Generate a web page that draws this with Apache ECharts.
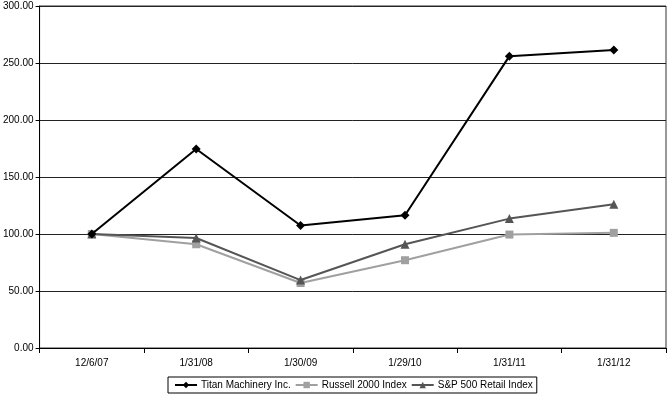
<!DOCTYPE html>
<html><head><meta charset="utf-8">
<script src="https://cdn.jsdelivr.net/npm/echarts@6/dist/echarts.min.js"></script>
<style>html,body{margin:0;padding:0;background:#fff}#c{width:667px;height:394px}</style>
</head><body><div id="c"></div>
<script>
const categories = ['12/6/07','1/31/08','1/30/09','1/29/10','1/31/11','1/31/12'];
const titan = [100, 174.6, 107.5, 116.5, 256, 261.4];
const russell = [100, 91, 57, 77, 99.5, 101];
const spRetail = [100, 96.5, 59.6, 91, 113.5, 126];
const yTicks = [0, 50, 100, 150, 200, 250, 300];

const chart = echarts.init(document.getElementById('c'));
const font = 'Liberation Sans, Arial, sans-serif';
chart.setOption({
  animation: false,
  grid: {left: 39, right: 1, top: 6, bottom: 46, containLabel: false, show: true, borderColor: '#333', borderWidth: 1},
  legend: {
    bottom: 1, left: 168, itemGap: 4, itemWidth: 22, itemHeight: 8,
    padding: [3, 4, 3, 6], borderColor: '#000', borderWidth: 1,
    textStyle: {fontFamily: font, fontSize: 10, color: '#000', padding: [0, 0, 0, -1]},
    data: ['Titan Machinery Inc.', 'Russell 2000 Index', 'S&P 500 Retail Index']
  },
  xAxis: {
    type: 'category', data: categories, boundaryGap: true,
    axisLine: {lineStyle: {color: '#000'}},
    axisTick: {show: true, length: 5, inside: false, lineStyle: {color: '#000'}},
    axisLabel: {fontFamily: font, fontSize: 10, color: '#000', margin: 10}
  },
  yAxis: {
    type: 'value', min: 0, max: 300, interval: 50,
    axisLine: {show: true, lineStyle: {color: '#000'}},
    axisTick: {show: true, length: 4, lineStyle: {color: '#000'}},
    axisLabel: {fontFamily: font, fontSize: 10, color: '#000', margin: 6,
      formatter: v => yTicks.includes(v) ? v.toFixed(2) : ''},
    splitLine: {lineStyle: {color: '#222', width: 1}}
  },
  series: [
    {name: 'Titan Machinery Inc.', type: 'line', data: titan, symbol: 'diamond', symbolSize: 9,
     lineStyle: {color: '#000', width: 2}, itemStyle: {color: '#000'}, z: 5},
    {name: 'Russell 2000 Index', type: 'line', data: russell, symbol: 'rect', symbolSize: 8,
     lineStyle: {color: '#a0a0a0', width: 2}, itemStyle: {color: '#a0a0a0'}, z: 3},
    {name: 'S&P 500 Retail Index', type: 'line', data: spRetail, symbol: 'triangle', symbolSize: 9,
     lineStyle: {color: '#555', width: 2}, itemStyle: {color: '#555'}, z: 4}
  ]
});
</script></body></html>
